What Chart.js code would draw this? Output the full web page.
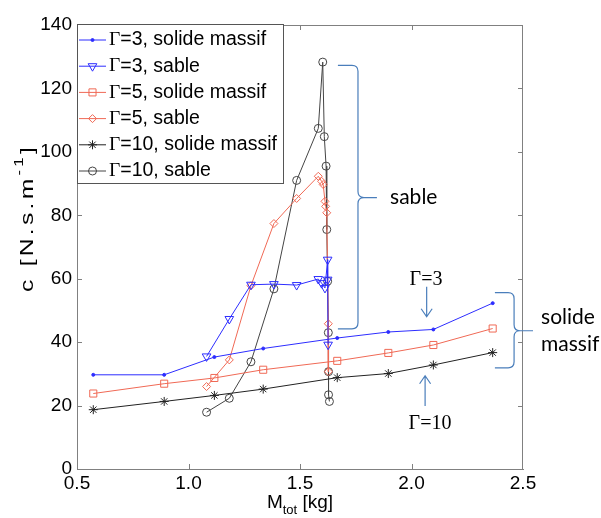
<!DOCTYPE html>
<html>
<head>
<meta charset="utf-8">
<script src="https://cdn.jsdelivr.net/npm/chart.js@4/dist/chart.umd.min.js"></script>
<style>
    html, body { margin: 0; padding: 0; background: #fff; }
</style>
</head>
<body>
<canvas id="chart" width="601" height="518"></canvas>
<script>
// Solid mass runs: same masses for every Γ
const massSolid = [0.573, 0.891, 1.116, 1.335, 1.667, 1.896, 2.098, 2.364];
const cSolidG3 = [29.7, 29.7, 35.3, 38.0, 41.3, 43.2, 44.0, 52.3];
const cSolidG5 = [23.8, 26.9, 28.7, 31.3, 34.1, 36.6, 39.1, 44.3];
const cSolidG10 = [18.7, 21.3, 23.2, 25.2, 28.8, 30.1, 32.8, 36.7];

// Sand runs
const massSandG3 = [1.081, 1.183, 1.280, 1.383, 1.485, 1.582, 1.597, 1.612, 1.624, 1.624, 1.626];
const cSandG3 = [35.5, 47.3, 58.1, 58.3, 58.0, 59.9, 58.6, 57.1, 66.0, 59.7, 39.2];
const massSandG5 = [1.081, 1.183, 1.280, 1.383, 1.485, 1.582, 1.597, 1.604, 1.612, 1.615, 1.620, 1.627, 1.627];
const cSandG5 = [26.0, 34.4, 57.8, 77.4, 85.3, 92.3, 90.7, 89.7, 84.4, 82.8, 80.8, 45.8, 30.7];
const massSandG10 = [1.081, 1.183, 1.280, 1.383, 1.485, 1.582, 1.602, 1.609, 1.617, 1.620, 1.624, 1.627, 1.628, 1.628, 1.632];
const cSandG10 = [17.9, 22.3, 33.8, 56.8, 91.0, 107.4, 128.3, 104.8, 95.5, 75.5, 59.2, 43.0, 30.7, 23.4, 21.3];

// Series labels
const seriesLabels = [
    'Γ=3, solide massif',
    'Γ=3, sable',
    'Γ=5, solide massif',
    'Γ=5, sable',
    'Γ=10, solide massif',
    'Γ=10, sable'
];

// Axis ticks
const xTickStep = 0.5;
const yTickStep = 20;

const BLUE = 'rgb(45,45,255)';
const RED = 'rgb(240,105,85)';
const BLACK = '#222';
const GREY = '#444';
const NOTE = '#4a7ebb';
const AXIS = '#808080';
const SANS = '"Liberation Sans", Arial, sans-serif';
const SERIF = '"Liberation Serif", "Times New Roman", serif';
const NOTE_FONT = 'Lato, "Open Sans", sans-serif';

function toPoints(xs, ys) {
    return xs.map((x, i) => ({ x, y: ys[i] }));
}

function series(label, xs, ys, color, style, radius, fill, rotation) {
    return {
        label,
        data: toPoints(xs, ys),
        showLine: true,
        borderColor: color,
        borderWidth: 1,
        pointStyle: style,
        pointRadius: radius,
        pointRotation: rotation || 0,
        pointBorderColor: color,
        pointBackgroundColor: fill,
        pointBorderWidth: 1
    };
}

// Draws a right-hand curly brace (data units)
function brace(ctx, x, y, b) {
    const xl = x.getPixelForValue(b.left);
    const xv = x.getPixelForValue(b.spine);
    const xp = x.getPixelForValue(b.tip);
    const yt = y.getPixelForValue(b.top);
    const ym = y.getPixelForValue(b.mid);
    const yb = y.getPixelForValue(b.bottom);
    const r = 6;

    ctx.beginPath();
    ctx.moveTo(xl, yt);
    ctx.lineTo(xv - r, yt);
    ctx.quadraticCurveTo(xv, yt, xv, yt + r);
    ctx.lineTo(xv, ym - r);
    ctx.quadraticCurveTo(xv, ym, xv + r, ym);
    ctx.lineTo(xp, ym);
    ctx.moveTo(xv + r, ym);
    ctx.quadraticCurveTo(xv, ym, xv, ym + r);
    ctx.lineTo(xv, yb - r);
    ctx.quadraticCurveTo(xv, yb, xv - r, yb);
    ctx.lineTo(xl, yb);
    ctx.stroke();
}

function arrow(ctx, x, y, a) {
    const px = x.getPixelForValue(a.x);
    const y0 = y.getPixelForValue(a.from);
    const y1 = y.getPixelForValue(a.to);
    const dir = y1 > y0 ? -1 : 1;

    ctx.beginPath();
    ctx.moveTo(px, y0);
    ctx.lineTo(px, y1);
    ctx.moveTo(px - 5.5, y1 + dir * 8);
    ctx.lineTo(px, y1);
    ctx.lineTo(px + 5.5, y1 + dir * 8);
    ctx.stroke();
}

// Frame, inward ticks, axis titles, legend and notes
const decorations = {
    id: 'decorations',
    afterDraw(chart) {
        const { ctx, chartArea: a, scales } = chart;
        const x = scales.x;
        const y = scales.y;

        ctx.save();

        // Box
        ctx.strokeStyle = AXIS;
        ctx.lineWidth = 1;
        ctx.strokeRect(Math.round(a.left) + 0.5, Math.round(a.top) + 0.5, Math.round(a.right - a.left) - 1, Math.round(a.bottom - a.top));

        // Inward ticks
        ctx.beginPath();
        x.ticks.forEach(t => {
            const p = Math.round(x.getPixelForValue(t.value)) + 0.5;
            if (p > a.left + 2 && p < a.right - 2) {
                ctx.moveTo(p, a.bottom); ctx.lineTo(p, a.bottom - 5);
                ctx.moveTo(p, a.top); ctx.lineTo(p, a.top + 5);
            }
        });
        y.ticks.forEach(t => {
            const p = Math.round(y.getPixelForValue(t.value)) + 0.5;
            if (p > a.top + 2 && p < a.bottom - 2) {
                ctx.moveTo(a.left, p); ctx.lineTo(a.left + 5, p);
                ctx.moveTo(a.right, p); ctx.lineTo(a.right - 5, p);
            }
        });
        ctx.stroke();

        // X title: M_tot [kg]
        ctx.fillStyle = '#000';
        ctx.textBaseline = 'alphabetic';
        ctx.textAlign = 'left';
        ctx.font = '19px ' + SANS;
        const wM = ctx.measureText('M').width;
        const wKg = ctx.measureText(' [kg]').width;
        ctx.font = '13px ' + SANS;
        const wTot = ctx.measureText('tot').width;
        let cx = (a.left + a.right) / 2 - (wM + wTot + wKg) / 2;
        const base = 508;
        ctx.font = '19px ' + SANS;
        ctx.fillText('M', cx, base);
        ctx.font = '13px ' + SANS;
        ctx.fillText('tot', cx + wM, base + 6);
        ctx.font = '19px ' + SANS;
        ctx.fillText(' [kg]', cx + wM + wTot, base);

        // Y title: c [N.s.m^-1], stretched glyphs like the original
        ctx.save();
        ctx.translate(28, 218);
        ctx.rotate(-Math.PI / 2);
        const stretch = 1.3;
        ctx.scale(stretch, 1);
        const mainText = 'c [N.s.m';
        const supText = '-1';
        const endText = ']';
        const nChars = mainText.length + supText.length + endText.length;
        ctx.font = '19px ' + SANS;
        let w1 = ctx.measureText(mainText).width;
        let w3 = ctx.measureText(endText).width;
        ctx.font = '13px ' + SANS;
        let w2 = ctx.measureText(supText).width;
        const raw = w1 + w2 + w3;
        const gap = Math.max(0, (148 / stretch - raw) / nChars);
        if ('letterSpacing' in ctx) {
            ctx.letterSpacing = gap.toFixed(2) + 'px';
            w1 += gap * mainText.length;
            w2 += gap * supText.length;
            w3 += gap * endText.length;
        }
        const total = w1 + w2 + w3;
        ctx.textBaseline = 'middle';
        const lx = -total / 2;
        ctx.font = '19px ' + SANS;
        ctx.fillText(mainText, lx, 0);
        ctx.font = '13px ' + SANS;
        ctx.fillText(supText, lx + w1, -9);
        ctx.font = '19px ' + SANS;
        ctx.fillText(endText, lx + w1 + w2, 0);
        ctx.restore();

        // Legend
        const lg = { left: 77, top: 24, width: 206, height: 159, first: 40, row: 26.2 };
        ctx.fillStyle = '#fff';
        ctx.fillRect(lg.left, lg.top, lg.width, lg.height);
        ctx.strokeStyle = '#555';
        ctx.strokeRect(lg.left + 0.5, lg.top + 0.5, lg.width, lg.height);
        chart.data.datasets.forEach((ds, i) => {
            const ly = lg.first + i * lg.row;
            ctx.strokeStyle = ds.borderColor;
            ctx.lineWidth = 1;
            ctx.beginPath();
            ctx.moveTo(79, ly);
            ctx.lineTo(106, ly);
            ctx.stroke();
            if (Chart.helpers && Chart.helpers.drawPoint) {
                ctx.fillStyle = ds.pointBackgroundColor;
                Chart.helpers.drawPoint(ctx, {
                    pointStyle: ds.pointStyle,
                    rotation: ds.pointRotation,
                    radius: ds.pointRadius,
                    borderWidth: 1
                }, 92.5, ly);
            }
            ctx.fillStyle = '#000';
            ctx.textBaseline = 'middle';
            ctx.font = '19.5px ' + SERIF;
            ctx.fillText(ds.label[0], 109, ly);
            const wg = ctx.measureText(ds.label[0]).width;
            ctx.font = '19.5px ' + SANS;
            ctx.fillText(ds.label.slice(1), 109 + wg, ly);
        });

        // Notes
        ctx.strokeStyle = NOTE;
        ctx.lineWidth = 1.2;
        brace(ctx, x, y, { left: 1.670, spine: 1.760, tip: 1.845, top: 127.3, mid: 85.6, bottom: 44.2 });
        brace(ctx, x, y, { left: 2.374, spine: 2.460, tip: 2.545, top: 55.6, mid: 43.6, bottom: 31.9 });
        arrow(ctx, x, y, { x: 2.068, from: 57.5, to: 48.0 });
        arrow(ctx, x, y, { x: 2.061, from: 19.9, to: 29.4 });

        ctx.fillStyle = '#000';
        ctx.textBaseline = 'middle';
        ctx.textAlign = 'left';
        ctx.font = '21px ' + NOTE_FONT;
        ctx.fillText('sable', x.getPixelForValue(1.904), y.getPixelForValue(85.6));
        ctx.fillText('solide', x.getPixelForValue(2.581), y.getPixelForValue(47.7));
        ctx.fillText('massif', x.getPixelForValue(2.581), y.getPixelForValue(39.2));
        ctx.textAlign = 'center';
        ctx.font = '20px ' + SERIF;
        ctx.fillText('Γ=3', x.getPixelForValue(2.065), y.getPixelForValue(59.7));
        ctx.fillText('Γ=10', x.getPixelForValue(2.083), y.getPixelForValue(14.2));

        ctx.restore();
    }
};

new Chart(document.getElementById('chart'), {
    type: 'scatter',
    data: {
        datasets: [
            series(seriesLabels[0], massSolid, cSolidG3, BLUE, 'circle', 1.5, BLUE),
            series(seriesLabels[1], massSandG3, cSandG3, BLUE, 'triangle', 5, 'rgba(0,0,0,0)', 180),
            series(seriesLabels[2], massSolid, cSolidG5, RED, 'rect', 5, 'rgba(0,0,0,0)'),
            series(seriesLabels[3], massSandG5, cSandG5, RED, 'rectRot', 4, 'rgba(0,0,0,0)'),
            series(seriesLabels[4], massSolid, cSolidG10, BLACK, 'star', 4.5, 'rgba(0,0,0,0)'),
            series(seriesLabels[5], massSandG10, cSandG10, GREY, 'circle', 4, 'rgba(0,0,0,0)')
        ]
    },
    options: {
        responsive: false,
        animation: false,
        devicePixelRatio: 1,
        layout: {
            padding: { left: 0, top: 25, right: 78, bottom: 0 }
        },
        plugins: {
            legend: { display: false },
            tooltip: { enabled: false }
        },
        scales: {
            x: {
                type: 'linear',
                min: 0.5,
                max: 2.5,
                afterFit(scale) { scale.height = 49; },
                ticks: {
                    stepSize: xTickStep,
                    color: '#000',
                    padding: 3,
                    font: { family: SANS, size: 19 }
                },
                grid: { display: false, drawTicks: false },
                border: { display: true, color: AXIS }
            },
            y: {
                min: 0,
                max: 140,
                afterFit(scale) { scale.width = 77; },
                ticks: {
                    stepSize: yTickStep,
                    color: '#000',
                    padding: 5,
                    font: { family: SANS, size: 19 }
                },
                grid: { display: false, drawTicks: false },
                border: { display: true, color: AXIS }
            }
        }
    },
    plugins: [decorations]
});
</script>
</body>
</html>
